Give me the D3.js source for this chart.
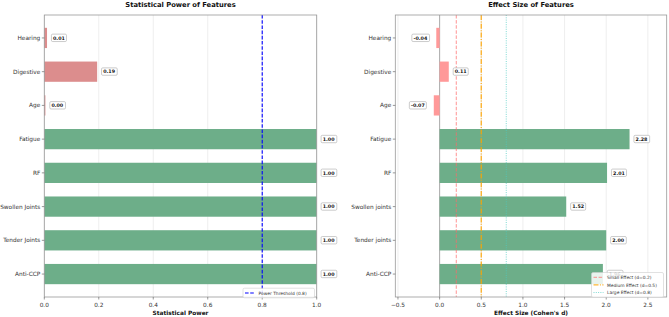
<!DOCTYPE html>
<html><head><meta charset="utf-8">
<script src="https://cdn.jsdelivr.net/npm/d3@7"></script>
<style>body{margin:0;background:#fff}svg{display:block;font-family:"DejaVu Sans",sans-serif}</style>
</head><body>
<svg id="c" width="669" height="317"></svg>
<script>
// data (top to bottom)
const powerFeatures = ["Hearing","Digestive","Age","Fatigue","RF","Swollen Joints","Tender Joints","Anti-CCP"];
const powerValues = [0.01, 0.194, 0.004, 1.0, 1.0, 1.0, 1.0, 1.0];
const effectFeatures = ["Hearing","Digestive","Age","Fatigue","RF","Swollen joints","Tender joints","Anti-CCP"];
const effectValues = [-0.04, 0.11, -0.07, 2.28, 2.01, 1.52, 2.00, 1.96];
const powerTicks = [0.0, 0.2, 0.4, 0.6, 0.8, 1.0];
const effectTicks = [-0.5, 0.0, 0.5, 1.0, 1.5, 2.0, 2.5];
const powerThreshold = 0.8;
const effectThresholds = [
  {d:0.2, label:"Small Effect (d=0.2)", color:"#ff6b6b", dash:"3.5,1.6", w:0.9},
  {d:0.5, label:"Medium Effect (d=0.5)", color:"#ffa500", dash:"5,1.4,1,1.4", w:1.4},
  {d:0.8, label:"Large Effect (d=0.8)", color:"#4ecdc4", dash:"1,1.3", w:0.9}
];

const svg = d3.select("#c");
const plotTop = 15, plotBottom = 297;
const n = powerFeatures.length;
const green = "#6dae89";

function panel(opts){
  const g = svg.append("g");
  const x = d3.scaleLinear().domain(opts.domain).range([opts.left, opts.right]);
  const y = d3.scaleLinear().domain([-0.68, n - 1 + 0.68]).range([plotBottom, plotTop]);
  const yc = i => y(n - 1 - i);
  // grid
  g.selectAll(".grid").data(opts.ticks).join("line")
    .attr("x1", d => x(d)).attr("x2", d => x(d)).attr("y1", plotTop).attr("y2", plotBottom)
    .attr("stroke", "#e6e6e6").attr("stroke-width", 0.7);
  if (opts.zeroLine) {
    g.append("line").attr("x1", x(0)).attr("x2", x(0)).attr("y1", plotTop).attr("y2", plotBottom)
      .attr("stroke", "#999").attr("stroke-width", 0.8);
  }
  // bars
  const bh = y(0) - y(0.6);
  g.selectAll(".bar").data(opts.values).join("rect")
    .attr("x", d => Math.min(x(0), x(d)))
    .attr("width", d => Math.abs(x(d) - x(0)))
    .attr("y", (d, i) => yc(i) - bh / 2)
    .attr("height", bh)
    .attr("fill", (d, i) => i < 3 ? opts.red : green);
  // threshold lines
  opts.lines.forEach(l => {
    g.append("line").attr("x1", x(l.d)).attr("x2", x(l.d)).attr("y1", plotTop).attr("y2", plotBottom)
      .attr("stroke", l.color).attr("stroke-width", l.w).attr("stroke-dasharray", l.dash)
      .attr("opacity", l.op || 1);
  });
  // value labels
  opts.values.forEach((v, i) => {
    const txt = v.toFixed(2);
    const neg = v < 0;
    const tx = neg ? x(v) - 9 : x(v) + 6;
    const t = g.append("text").attr("x", tx).attr("y", yc(i) + 1.7)
      .attr("text-anchor", neg ? "end" : "start")
      .attr("font-size", 4.8).attr("font-weight", "bold").attr("fill", "#111").text(txt);
    const bb = t.node().getBBox();
    g.insert("rect", () => t.node())
      .attr("x", bb.x - 1.6).attr("y", yc(i) - 3.8).attr("width", bb.width + 3.2).attr("height", 7.4)
      .attr("rx", 1.2).attr("fill", "#fff").attr("stroke", "#aaa").attr("stroke-width", 0.6);
  });
  // spines
  g.append("rect").attr("x", opts.left).attr("y", plotTop).attr("width", opts.right - opts.left)
    .attr("height", plotBottom - plotTop).attr("fill", "none").attr("stroke", "#999").attr("stroke-width", 0.8);
  // y ticks
  opts.features.forEach((f, i) => {
    g.append("line").attr("x1", opts.left - 2.5).attr("x2", opts.left).attr("y1", yc(i)).attr("y2", yc(i))
      .attr("stroke", "#555").attr("stroke-width", 0.6);
    g.append("text").attr("x", opts.left - 4).attr("y", yc(i) + 2).attr("text-anchor", "end")
      .attr("font-size", 5.8).attr("fill", "#333").text(f);
  });
  // x ticks
  opts.ticks.forEach(t => {
    g.append("line").attr("x1", x(t)).attr("x2", x(t)).attr("y1", plotBottom).attr("y2", plotBottom + 2.5)
      .attr("stroke", "#555").attr("stroke-width", 0.6);
    g.append("text").attr("x", x(t)).attr("y", plotBottom + 9.5).attr("text-anchor", "middle")
      .attr("font-size", 5.8).attr("fill", "#333").text(t < 0 ? "\u2212" + Math.abs(t).toFixed(1) : t.toFixed(1));
  });
  // titles
  const cx = (opts.left + opts.right) / 2;
  g.append("text").attr("x", cx).attr("y", 6.6).attr("text-anchor", "middle")
    .attr("font-size", 6.75).attr("font-weight", "bold").attr("fill", "#111").text(opts.title);
  g.append("text").attr("x", cx).attr("y", 315.3).attr("text-anchor", "middle")
    .attr("font-size", 5.85).attr("font-weight", "bold").attr("fill", "#111").text(opts.xlabel);
  // legend
  const L = opts.legend;
  const rowH = 7.6;
  g.append("rect").attr("x", L.x).attr("y", L.y).attr("width", L.w).attr("height", rowH * L.items.length + 2)
    .attr("rx", 1.5).attr("fill", "#fff").attr("fill-opacity", 0.85).attr("stroke", "#ccc").attr("stroke-width", 0.6);
  L.items.forEach((it, k) => {
    const yy = L.y + 4.8 + k * rowH;
    g.append("line").attr("x1", L.x + 2).attr("x2", L.x + 12).attr("y1", yy).attr("y2", yy)
      .attr("stroke", it.color).attr("stroke-width", it.w).attr("stroke-dasharray", it.dash).attr("opacity", it.op || 1);
    g.append("text").attr("x", L.x + 15.5).attr("y", yy + 1.6).attr("font-size", 4.4).attr("fill", "#333").text(it.label);
  });
}

const blue = {d: powerThreshold, label: "Power Threshold (0.8)", color: "#0000ff", dash: "3.6,1.6", w: 1.1};
panel({
  left: 44.3, right: 316.7, domain: [0, 1], ticks: powerTicks,
  features: powerFeatures, values: powerValues, red: "#dc8d8d",
  lines: [blue], title: "Statistical Power of Features", xlabel: "Statistical Power",
  legend: {x: 243, y: 288.2, w: 71.5, items: [blue]}
});
const effLines = effectThresholds.map(t => Object.assign({op: 0.8}, t));
panel({
  left: 395.3, right: 666.7, domain: [-0.532, 2.726], ticks: effectTicks, zeroLine: true,
  features: effectFeatures, values: effectValues, red: "#ff9999",
  lines: effLines, title: "Effect Size of Features", xlabel: "Effect Size (Cohen's d)",
  legend: {x: 591.5, y: 272.5, w: 72, items: effLines}
});
</script>
</body></html>
